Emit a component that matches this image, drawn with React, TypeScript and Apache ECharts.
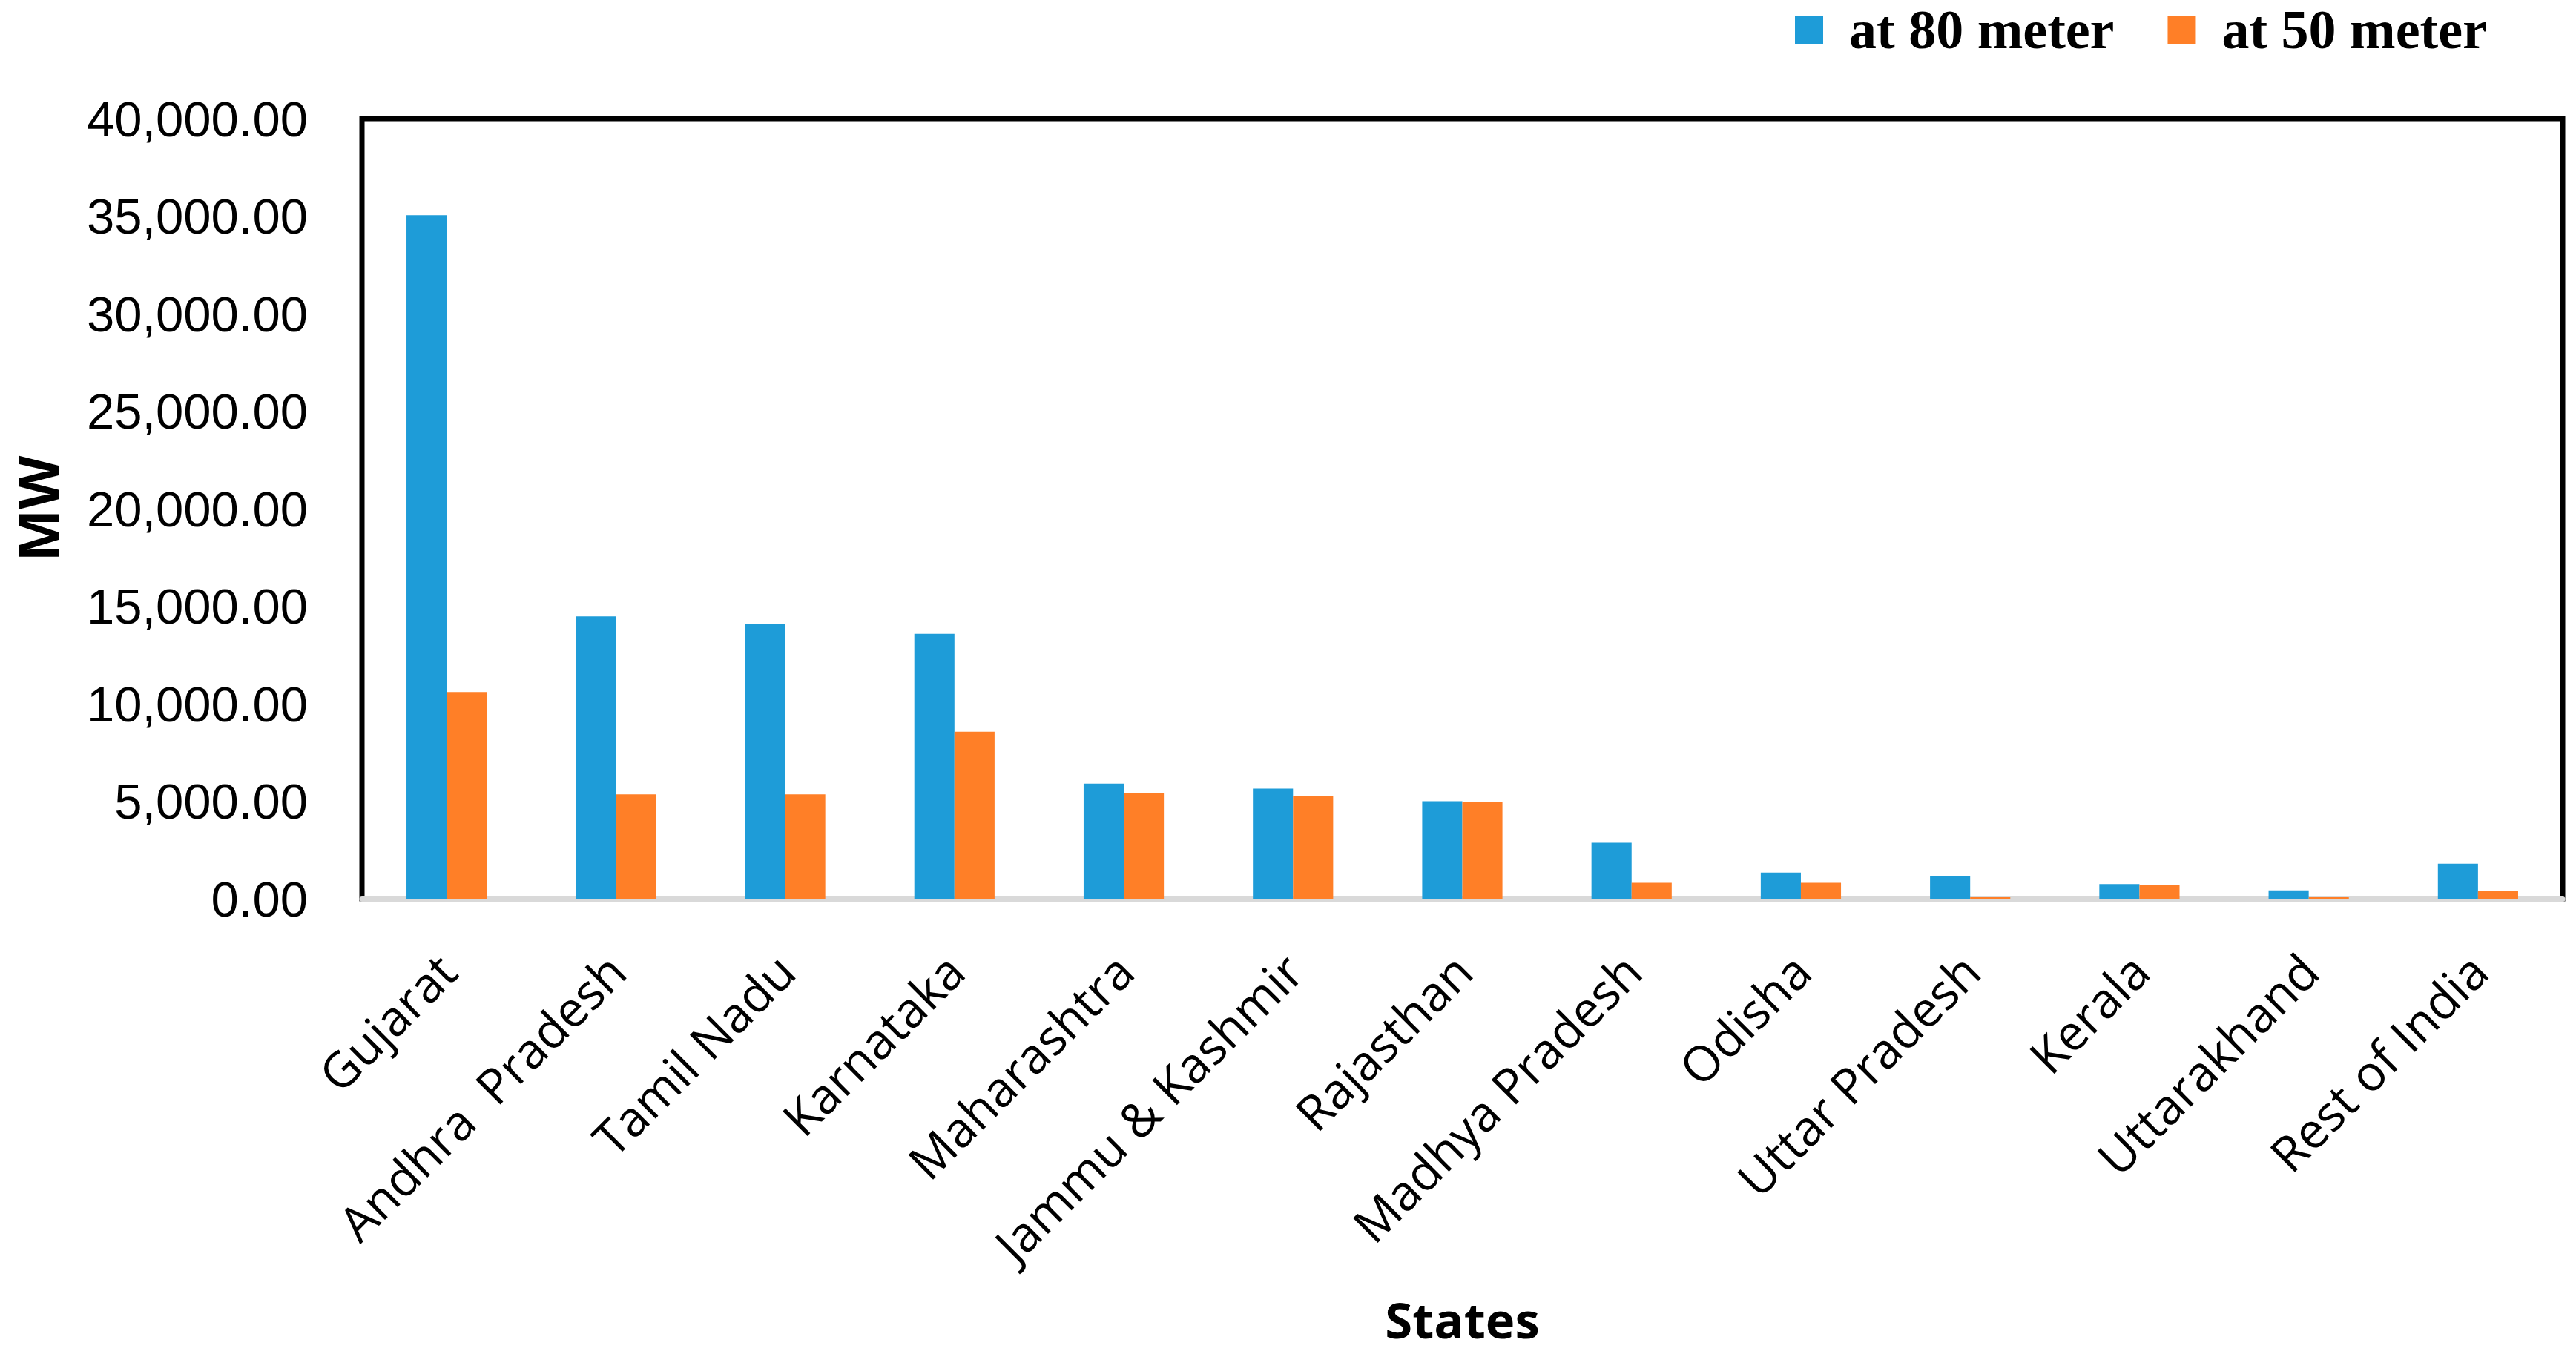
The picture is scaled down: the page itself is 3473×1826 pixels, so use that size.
import React, { useEffect, useRef } from "react";
import * as echarts from "echarts";

const categories = [
  "Gujarat",
  "Andhra  Pradesh",
  "Tamil Nadu",
  "Karnataka",
  "Maharashtra",
  "Jammu & Kashmir",
  "Rajasthan",
  "Madhya Pradesh",
  "Odisha",
  "Uttar Pradesh",
  "Kerala",
  "Uttarakhand",
  "Rest of India",
];
const seriesNames = ["at 80 meter", "at 50 meter"];
const at80 = [35050, 14480, 14100, 13580, 5900, 5650, 5000, 2870, 1340, 1180, 750, 430, 1800];
const at50 = [10600, 5350, 5350, 8560, 5400, 5270, 4960, 820, 820, 80, 700, 80, 400];
const yMin = 0;
const yMax = 40000;
const yStep = 5000;

function fmt(v: number): string {
  const fixed = v.toFixed(2);
  const [intPart, dec] = fixed.split(".");
  const withCommas = intPart.replace(/\B(?=(\d{3})+(?!\d))/g, ",");
  return withCommas + "." + dec;
}

export default function App() {
  const ref = useRef<HTMLDivElement>(null);
  useEffect(() => {
    if (!ref.current) return;
    const chart = echarts.init(ref.current, null, { renderer: "svg" });
    chart.setOption({
      animation: false,
      backgroundColor: "#ffffff",
      legend: {
        data: seriesNames,
        left: 2420,
        top: 3,
        padding: 0,
        itemWidth: 38,
        itemHeight: 38,
        itemGap: 72,
        icon: "rect",
        textStyle: {
          fontFamily: "Liberation Serif",
          fontWeight: "bold",
          fontSize: 74,
          lineHeight: 74,
          color: "#000",
          padding: [0, 0, 0, 30],
        },
      },
      grid: {
        left: 488,
        right: 18,
        top: 160,
        bottom: 614,
        show: true,
        borderColor: "#000",
        borderWidth: 7,
        backgroundColor: "transparent",
      },
      xAxis: {
        type: "category",
        data: categories,
        axisLine: { show: true, lineStyle: { color: "#D9D9D9", width: 7 } },
        axisTick: { show: false },
        axisLabel: {
          interval: 0,
          rotate: 45,
          margin: 85,
          fontFamily: "Open Sans",
          fontSize: 66,
          color: "#000",
        },
        name: "States",
        nameLocation: "middle",
        nameGap: 567,
        nameTextStyle: {
          fontFamily: "Open Sans",
          fontWeight: "bold",
          fontSize: 67,
          lineHeight: 67,
          color: "#000",
          verticalAlign: "middle",
        },
      },
      yAxis: {
        type: "value",
        min: yMin,
        max: yMax,
        interval: yStep,
        axisLine: { show: false },
        axisTick: { show: false },
        splitLine: { show: false },
        axisLabel: {
          margin: 73,
          fontFamily: "Liberation Sans",
          fontSize: 67,
          color: "#000",
          formatter: (v: number) => fmt(v),
        },
        name: "MW",
        nameLocation: "middle",
        nameRotate: 90,
        nameGap: 438,
        nameTextStyle: {
          fontFamily: "Open Sans",
          fontWeight: "bold",
          fontSize: 75,
          lineHeight: 75,
          color: "#000",
          verticalAlign: "middle",
        },
      },
      series: [
        {
          name: seriesNames[0],
          type: "bar",
          data: at80,
          barGap: "0%",
          barCategoryGap: "52.6%",
          itemStyle: { color: "#1E9CD8" },
        },
        {
          name: seriesNames[1],
          type: "bar",
          data: at50,
          barGap: "0%",
          barCategoryGap: "52.6%",
          itemStyle: { color: "#FF7F27" },
        },
      ],
    });
    return () => chart.dispose();
  }, []);
  return (
    <div
      ref={ref}
      style={{ position: "absolute", left: 0, top: 0, width: "3473px", height: "1826px" }}
    />
  );
}
